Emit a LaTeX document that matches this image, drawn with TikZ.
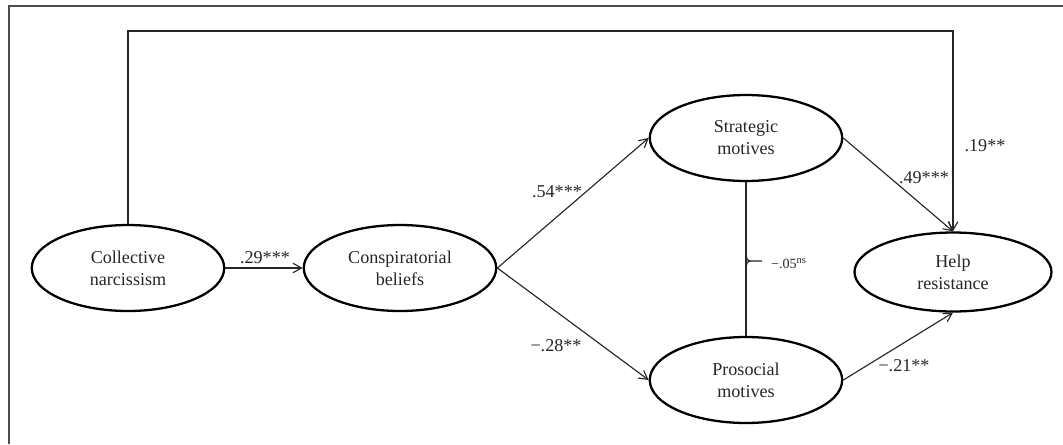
\documentclass[tikz,border=0pt]{standalone}
\usepackage{fontspec}
\setmainfont{Liberation Serif}
\usetikzlibrary{arrows.meta,shapes.geometric,positioning}
\begin{document}
\begin{tikzpicture}[x=0.02cm,y=-0.02cm]
		\tikzstyle{every node}=[font=\fontsize{10.3}{12.5}\selectfont, text=black!85]
		\tikzstyle{latent}=[ellipse, draw=black, line width=1.3pt, inner sep=0pt, align=center, minimum width=3.85cm, minimum height=1.72cm]
		\tikzstyle{link}=[line width=0.65pt, draw=black!85, -{Straight Barb[length=1.7mm,width=1.9mm]}]
		\tikzstyle{coef}=[inner sep=1pt]
		\useasboundingbox (0,0) rectangle (1063,444);
		\draw [line width=0.8pt, black!70] (9,444) -- (9,6) -- (1063,6);
		% latent variables
		\node [latent] (cn) at (128,268) {Collective\\narcissism};
		\node [latent] (cb) at (400,268) {Conspiratorial\\beliefs};
		\node [latent] (sm) at (746,138) {Strategic\\motives};
		\node [latent] (pm) at (746,380) {Prosocial\\motives};
		\node [latent, minimum width=3.94cm, minimum height=1.58cm] (hr) at (953,272) {Help\\resistance};
		\coordinate (top) at (500,31);
		\coordinate (ns) at (746,261);
		% paths
		\draw [link] (cn) -- (cb);
		\draw [link] (cb.east) -- (sm.west);
		\draw [link] (cb.east) -- (pm.west);
		\draw [link] (sm.east) -- (hr.north);
		\draw [link] (pm.east) -- (hr.south);
		\draw [link] (cn.north) -- (cn.north |- top) -- (hr.north |- top) -- (hr.north);
		\draw [line width=0.65pt, black!85] (sm.south) -- (pm.north);
		\draw [line width=0.65pt, black!85] ([yshift=3.5pt]ns) to[out=-90, in=180] ([xshift=2.5pt]ns) -- ([xshift=9pt]ns);
		\draw [line width=0.65pt, black!85] ([yshift=-3.5pt]ns) to[out=90, in=180] ([xshift=2.5pt]ns);
		% coefficients
		\node [coef] (c29) at (265,258) {.29***};
		\node [coef] (c54) at (557,192) {.54***};
		\node [coef] (c28) at (556,346) {−.28**};
		\node [coef] (c49) at (924,178) {.49***};
		\node [coef] (c21) at (904,366) {−.21**};
		\node [coef] (c19) at (985,146) {.19**};
		\node [coef, font=\fontsize{8}{9}\selectfont] (c05) at (789,264) {−.05\textsuperscript{ns}};
	\end{tikzpicture}
\end{document}
